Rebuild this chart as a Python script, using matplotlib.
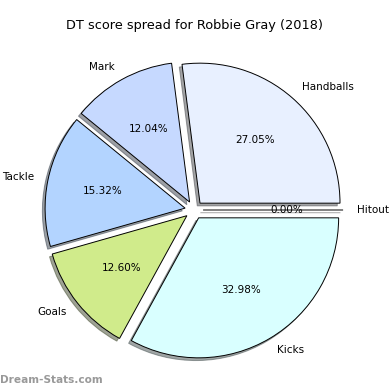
import matplotlib
matplotlib.use('Agg')
import matplotlib.pyplot as plt

# stat categories and share of DT score (%)
labels = ['Hitout', 'Handballs', 'Mark', 'Tackle', 'Goals', 'Kicks']
shares = [0.00, 27.05, 12.04, 15.32, 12.60, 32.98]
colors = ['#ffffff', '#e8f0ff', '#c6d9ff', '#b3d4ff', '#d0eb8b', '#d9ffff']
explode = [0.065] * len(labels)

fig = plt.figure(figsize=(3.9, 3.9), dpi=100)
ax = fig.add_axes([0, 0, 1, 1])

ax.pie(shares, labels=labels, colors=colors, explode=explode,
       autopct='%.2f%%', startangle=0, radius=1.0,
       shadow={'ox': -0.014, 'oy': -0.014},
       labeldistance=1.1, pctdistance=0.6,
       wedgeprops={'edgecolor': 'black', 'linewidth': 0.7},
       textprops={'fontsize': 7.5})

# 1 data unit = 140 px, pie centre at (194, 210) from top-left
ax.set_xlim(-194 / 140, 196 / 140)
ax.set_ylim(-180 / 140, 210 / 140)
ax.set_aspect('equal')
ax.axis('off')

fig.text(0.5, 1 - 25 / 390, 'DT score spread for Robbie Gray (2018)',
         ha='center', va='center', fontsize=9.3)
fig.text(0.0, 1 - 380 / 390, 'Dream-Stats.com', ha='left', va='center',
         fontsize=7.6, color='#999999', fontweight='bold')

fig.savefig('out.png', dpi=100)
